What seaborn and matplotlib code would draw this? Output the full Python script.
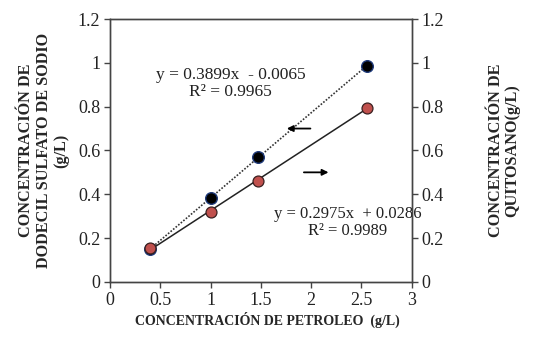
import matplotlib
matplotlib.use("Agg")
import matplotlib.pyplot as plt
import numpy as np
import pandas as pd
import seaborn as sns

# data
petroleo = [0.40, 1.00, 1.47, 2.55]
dodecil = [0.150, 0.383, 0.568, 0.985]
quitosano = [0.155, 0.318, 0.460, 0.795]

x_ticks = [0, 0.5, 1, 1.5, 2, 2.5, 3]
y_ticks = [0, 0.2, 0.4, 0.6, 0.8, 1, 1.2]
tick_labels_x = ["0", "0.5", "1", "1.5", "2", "2.5", "3"]
tick_labels_y = ["0", "0.2", "0.4", "0.6", "0.8", "1", "1.2"]

eq_sds = "y = 0.3899x  - 0.0065\nR² = 0.9965"
eq_quit = "y = 0.2975x  + 0.0286\nR² = 0.9989"

df = pd.DataFrame({"petroleo": petroleo, "sds": dodecil, "quit": quitosano})

sns.set_theme(style="white")
plt.rcParams["font.family"] = ["Liberation Serif", "DejaVu Serif"]

fig, ax = plt.subplots(figsize=(5.39, 3.4), dpi=100)
ax2 = ax.twinx()

# trend lines
sns.regplot(data=df, x="petroleo", y="sds", ax=ax, ci=None, scatter=False,
            truncate=True, line_kws=dict(color="#333333", lw=1.2, ls=(0, (1, 1))))
sns.regplot(data=df, x="petroleo", y="quit", ax=ax2, ci=None, scatter=False,
            truncate=True, line_kws=dict(color="#222222", lw=1.1))

# points
sns.scatterplot(data=df, x="petroleo", y="sds", ax=ax, color="black",
                edgecolor="#1f3a7a", s=70, linewidth=1, zorder=5)
sns.scatterplot(data=df, x="petroleo", y="quit", ax=ax2, color="#c0504d",
                edgecolor="#3a2020", s=62, linewidth=0.9, zorder=5)

for a in (ax, ax2):
    a.set_xlim(0, 3)
    a.set_ylim(0, 1.2)
    a.set_yticks(y_ticks)
    a.set_yticklabels(tick_labels_y, fontsize=13)
    for s in a.spines.values():
        s.set_color("#444444")
        s.set_linewidth(1)
    a.tick_params(direction="out", length=4, width=1, color="#444444",
                  labelcolor="#222222", pad=3)

ax.tick_params(left=True, bottom=True)
ax2.tick_params(right=True)
ax.set_xticks(x_ticks)
ax.set_xticklabels(tick_labels_x, fontsize=13)

ax.set_xlabel("CONCENTRACIÓN DE PETROLEO  (g/L)", fontsize=10,
              fontweight="bold", labelpad=5)
ax.xaxis.set_label_coords(0.52, -0.115)
ax.set_ylabel("CONCENTRACIÓN DE\nDODECIL SULFATO DE SODIO\n(g/L)", fontsize=11.7,
              fontweight="bold", labelpad=6, linespacing=1.15)
ax2.set_ylabel("CONCENTRACIÓN DE\nQUITOSANO(g/L)", fontsize=11.7,
               fontweight="bold", labelpad=32, linespacing=1.0)

ax.text(1.20, 0.905, eq_sds, ha="center", va="center", fontsize=12.5,
        linespacing=1.1, color="#222222")
ax.text(2.36, 0.27, eq_quit, ha="center", va="center", fontsize=12,
        linespacing=1.1, color="#222222")

ax.annotate("", xy=(1.73, 0.70), xytext=(2.02, 0.70),
            arrowprops=dict(arrowstyle="-|>", color="black", lw=1.3,
                            mutation_scale=9))
ax.annotate("", xy=(2.2, 0.50), xytext=(1.90, 0.50),
            arrowprops=dict(arrowstyle="-|>", color="black", lw=1.3,
                            mutation_scale=9))

fig.subplots_adjust(left=0.204, right=0.764, top=0.944, bottom=0.171)
fig.savefig("out.png", dpi=100)
